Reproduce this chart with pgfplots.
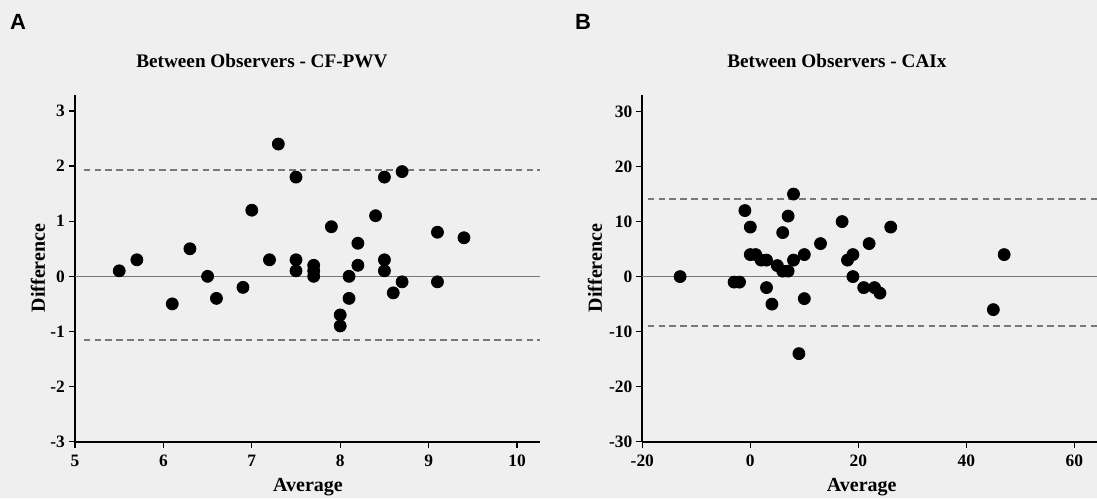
\documentclass[border=0pt]{standalone}
\usepackage{fontspec}
\setmainfont{Liberation Serif}
\newfontfamily\sansbold{Liberation Sans}
\usepackage{pgfplots}
\pgfplotsset{compat=1.18}
\definecolor{bg}{RGB}{239,239,239}
\definecolor{refgray}{RGB}{120,120,120}

\pgfplotstableread{
x y
5.5 0.1
5.7 0.3
6.1 -0.5
6.3 0.5
6.5 0.0
6.6 -0.4
6.9 -0.2
7.0 1.2
7.2 0.3
7.3 2.4
7.5 1.8
7.5 0.3
7.5 0.1
7.7 0.2
7.7 0.1
7.7 0.0
7.9 0.9
8.0 -0.7
8.0 -0.9
8.1 0.0
8.1 -0.4
8.2 0.6
8.2 0.2
8.4 1.1
8.5 1.8
8.5 0.3
8.5 0.1
8.6 -0.3
8.7 1.9
8.7 -0.1
9.1 0.8
9.1 -0.1
9.4 0.7
}\pwvdata

\pgfplotstableread{
x y
-13 0
-3 -1
-2 -1
-1 12
0 9
0 4
1 4
2 3
3 3
3 -2
4 -5
5 2
6 8
6 1
7 11
7 1
8 15
8 3
9 -14
10 4
10 -4
13 6
17 10
18 3
19 4
19 0
21 -2
22 6
23 -2
24 -3
26 9
45 -6
47 4
}\caixdata

\pgfplotsset{
  baplot/.style={
    scale only axis,
    height=173.35pt,
    axis lines=left,
    axis line style={-, line width=1pt, black},
    every outer x axis line/.append style={-},
    every outer y axis line/.append style={-},
    tick align=outside,
    major tick length=3pt,
    tick style={black, line width=0.6pt},
    tick label style={font=\fontsize{8.7}{10}\selectfont\bfseries},
    yticklabel style={xshift=1.5pt},
    /pgf/number format/assume math mode=true,
    label style={font=\fontsize{10}{12}\selectfont\bfseries},
    title style={font=\fontsize{9.6}{11}\selectfont\bfseries, anchor=center},
    clip=false,
    ylabel={Difference},
    xlabel={Average},
  },
  pts/.style={only marks, mark=*, mark size=3pt, black, mark options={fill=black, draw=black}},
  zeroline/.style={refgray, line width=0.8pt},
  loaline/.style={refgray, line width=0.8pt, dash pattern=on 3.3pt off 2.1pt},
}

\begin{document}
\begin{tikzpicture}
\fill[bg] (0,0) rectangle (548.5pt,249pt);

\begin{axis}[baplot,
  at={(37.5pt,28.15pt)}, anchor=south west,
  width=232.5pt,
  xmin=5, xmax=10.26, ymin=-3, ymax=3.29,
  xtick={5,6,7,8,9,10}, ytick={-3,-2,-1,0,1,2,3},
  title={Between Observers - CF-PWV},
  title style={at={(0.402,1.0635)}},
  xlabel style={at={(axis description cs:0.501,-0.131)}, anchor=center},
  ylabel style={at={(axis description cs:-0.0796,0.501)}, anchor=center, rotate=0},
]
\addplot[zeroline] coordinates {(5,0) (10.26,0)};
\addplot[loaline] coordinates {(5.1,1.93) (10.26,1.93)};
\addplot[loaline] coordinates {(5.1,-1.15) (10.26,-1.15)};
\addplot[pts] table[x=x,y=y] {\pwvdata};
\end{axis}

\begin{axis}[baplot,
  at={(321.15pt,28.15pt)}, anchor=south west,
  width=227.35pt,
  xmin=-20, xmax=64.2, ymin=-30, ymax=33,
  xtick={-20,0,20,40,60}, ytick={-30,-20,-10,0,10,20,30},
  title={Between Observers - CAIx},
  title style={at={(0.428,1.0635)}},
  xlabel style={at={(axis description cs:0.4825,-0.131)}, anchor=center},
  ylabel style={at={(axis description cs:-0.104,0.501)}, anchor=center, rotate=0},
]
\addplot[zeroline] coordinates {(-20,0) (64.2,0)};
\addplot[loaline] coordinates {(-19,14.1) (64.2,14.1)};
\addplot[loaline] coordinates {(-19,-9.0) (64.2,-9.0)};
\addplot[pts] table[x=x,y=y] {\caixdata};
\end{axis}

\node[font=\sansbold\fontsize{11}{13}\selectfont\bfseries] at (9pt,238pt) {A};
\node[font=\sansbold\fontsize{11}{13}\selectfont\bfseries] at (291.5pt,238pt) {B};

\pgfresetboundingbox
\path[use as bounding box] (0,0) rectangle (548.5pt,249pt);
\end{tikzpicture}
\end{document}
